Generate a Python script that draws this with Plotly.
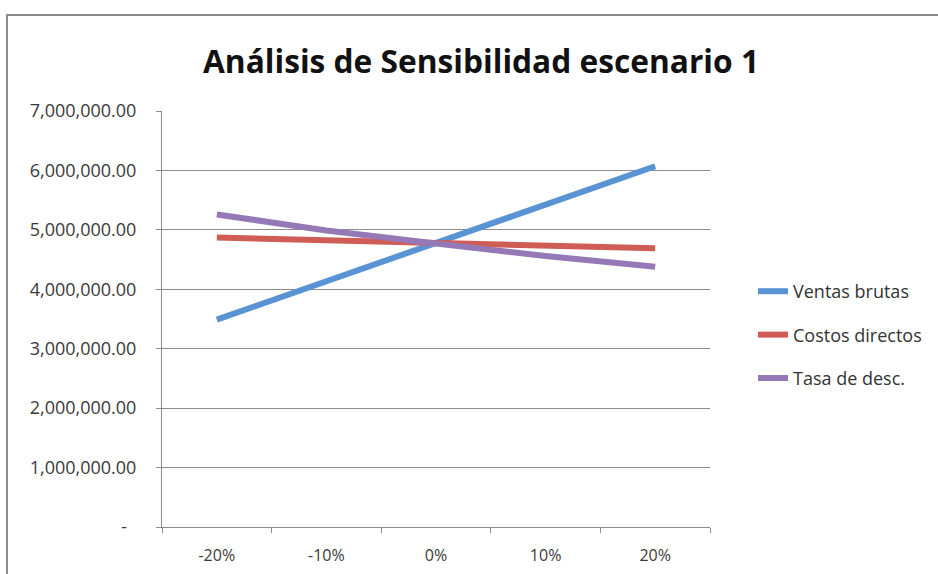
import plotly.graph_objects as go

categories = ["-20%", "-10%", "0%", "10%", "20%"]
ventas_brutas = [3490000, 4130000, 4770000, 5420000, 6070000]
costos_directos = [4870000, 4820000, 4770000, 4730000, 4690000]
tasa_desc = [5260000, 4990000, 4770000, 4560000, 4380000]
series_names = ["Ventas brutas", "Costos directos", "Tasa de desc."]
colors = ["#5A93D3", "#CF5D56", "#9579B6"]
y_tickvals = [0, 1000000, 2000000, 3000000, 4000000, 5000000, 6000000, 7000000]
y_ticktext = ["-\u00a0\u00a0", "1,000,000.00", "2,000,000.00", "3,000,000.00", "4,000,000.00",
              "5,000,000.00", "6,000,000.00", "7,000,000.00"]
title_text = "Análisis de Sensibilidad escenario 1"

W, H = 938, 574
L, R, T, B = 162, 710, 111, 527

fig = go.Figure()
for i, (name, vals) in enumerate(zip(series_names, [ventas_brutas, costos_directos, tasa_desc])):
    fig.add_trace(go.Scatter(
        x=categories, y=vals, name=name, mode="lines",
        line=dict(color=colors[i], width=6),
        legendgroup=f"g{i}",
    ))

fig.update_layout(
    width=W, height=H,
    margin=dict(l=L, r=W - R, t=T, b=H - B, autoexpand=False),
    paper_bgcolor="white", plot_bgcolor="white",
    font=dict(family="Open Sans, sans-serif", color="#3a3a3a", size=17),
    title=dict(text=title_text, x=481 / W, xanchor="center", y=1 - 62 / H, yanchor="middle",
               yref="container", xref="container",
               font=dict(family="Open Sans, sans-serif", size=31.7, color="#111111", weight="bold")),
    showlegend=True,
    legend=dict(x=(753 - L) / (R - L), xanchor="left", y=(527 - 273) / (B - T), yanchor="top",
                traceorder="grouped", tracegroupgap=17, itemwidth=30,
                font=dict(size=18, color="#333333"), bgcolor="rgba(0,0,0,0)"),
    xaxis=dict(type="category", range=[-0.5, 4.5], showgrid=False, showline=True,
               linecolor="#8c8c8c", linewidth=1, ticks="outside", tickson="boundaries",
               ticklen=5, tickcolor="#8c8c8c", tickfont=dict(size=16),
               ticklabelstandoff=14, fixedrange=True),
    yaxis=dict(range=[0, 7000000], tickvals=y_tickvals, ticktext=y_ticktext,
               showgrid=True, gridcolor="#8c8c8c", gridwidth=1, showline=True,
               linecolor="#8c8c8c", linewidth=1, ticks="outside", ticklen=5,
               tickcolor="#8c8c8c", zeroline=False, tickfont=dict(size=18),
               ticklabelstandoff=16, fixedrange=True),
    shapes=[dict(type="rect", xref="paper", yref="paper",
                 x0=(7 - L) / (R - L), x1=(945 - L) / (R - L),
                 y0=(B - 585) / (B - T), y1=(B - 15) / (B - T),
                 line=dict(color="#8c8c8c", width=2), fillcolor="rgba(0,0,0,0)", layer="below")],
)

fig.write_html("out.html")
